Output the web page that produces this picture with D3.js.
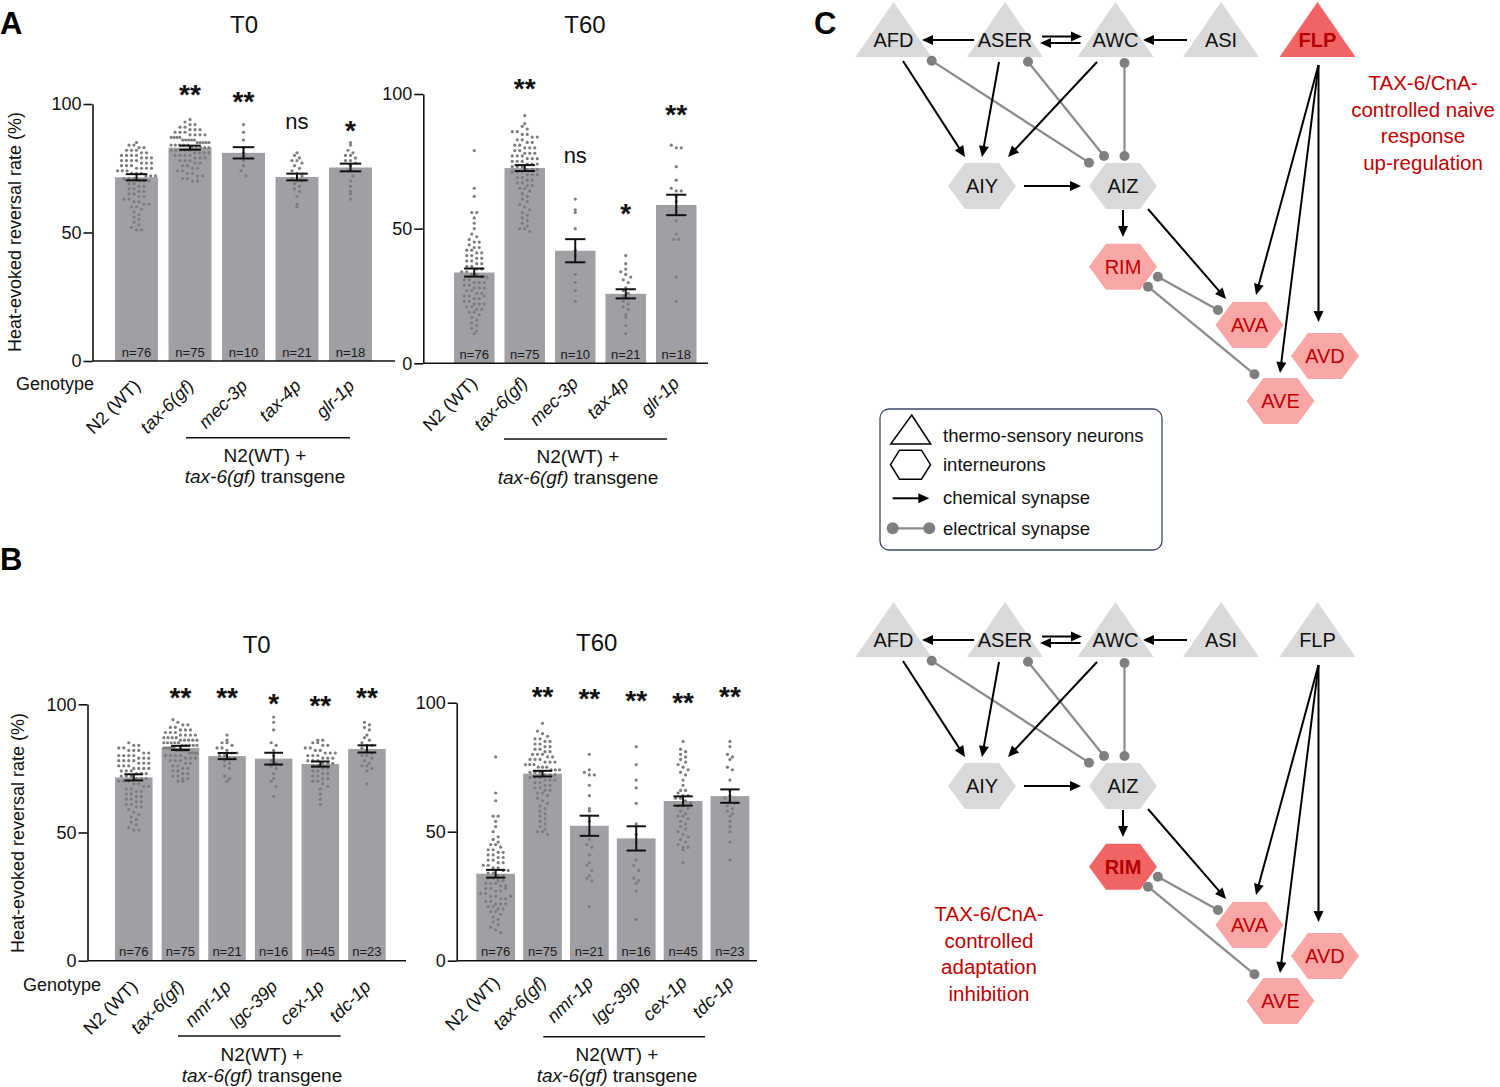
<!DOCTYPE html>
<html><head><meta charset="utf-8">
<script src="https://cdn.jsdelivr.net/npm/d3@7"></script>
<style>
body{margin:0;background:#fff}
svg{display:block}
text{font-family:Arial,"Liberation Sans",Helvetica,sans-serif}
</style>
</head><body>
<svg id="c" width="1500" height="1087"></svg>
<script>
// ---------------- DATA ----------------
const catsA = ["N2 (WT)","tax-6(gf)","mec-3p","tax-4p","glr-1p"];
const catsB = ["N2 (WT)","tax-6(gf)","nmr-1p","lgc-39p","cex-1p","tdc-1p"];
const nA = [76,75,10,21,18];
const nB = [76,75,21,16,45,23];

const meanA_T0  = [71.5, 83.0, 81.0, 71.6, 75.3];
const semA_T0   = [1.2, 0.8, 2.2, 1.3, 1.5];
const meanA_T60 = [33.7, 72.5, 41.8, 25.8, 58.8];
const semA_T60  = [1.5, 1.1, 4.3, 1.7, 3.8];
const meanB_T0  = [71.5, 83.0, 79.8, 78.8, 76.7, 82.6];
const semB_T0   = [1.2, 0.8, 1.2, 2.3, 1.0, 1.4];
const meanB_T60 = [33.7, 72.5, 52.3, 47.4, 61.9, 63.8];
const semB_T60  = [1.5, 1.1, 3.9, 4.7, 1.8, 2.6];

const sigA_T0  = ["", "**", "**", "ns", "*"];
const sigA_T60 = ["", "**", "ns", "*", "**"];
const sigB_T0  = ["", "**", "**", "*", "**", "**"];
const sigB_T60 = ["", "**", "**", "**", "**", "**"];
// height (in % units) at which each significance mark sits
const sigAtA_T0  = [0, 106.2, 103.5, 92.6, 92.2];
const sigAtA_T60 = [0, 104.5, 76.6, 58.0, 94.8];
const sigAtB_T0  = [0, 105.2, 105.2, 103.0, 102.1, 105.2];
const sigAtB_T60 = [0, 104.9, 104.3, 103.4, 102.6, 104.9];

// individual animals / trials (%)
const ptsN2_T0 = [85,84,84,83,83,82,82,82,81,81,80,80,80,80,79,79,79,78,78,78,78,77,77,77,76,76,76,75,75,75,75,74,74,74,73,73,73,72,72,72,71,71,71,70,70,70,69,69,68,68,67,67,66,66,65,65,64,64,63,63,62,62,61,61,60,60,59,58,57,56,55,54,53,52,51,51];
const ptsTax6_T0 = [94,93,92,92,91,91,90,90,90,89,89,89,88,88,88,88,87,87,87,87,86,86,86,86,86,85,85,85,85,85,84,84,84,84,84,83,83,83,83,83,82,82,82,82,82,81,81,81,81,80,80,80,80,79,79,79,78,78,78,77,77,76,76,75,75,74,74,73,73,72,72,71,71,70,70];
const ptsMec3_T0 = [92,89,86,83,81,80,78,76,74,72];
const ptsTax4_T0 = [81,80,79,78,78,77,76,75,74,73,72,71,70,70,69,68,67,66,64,61,60];
const ptsGlr1_T0 = [85,84,82,81,80,80,79,78,78,77,76,74,72,70,68,66,65,63];

const ptsN2_T60 = [79,65,62,56,56,54,52,50,48,47,46,45,45,44,43,43,42,42,41,41,40,40,39,39,38,38,37,37,36,36,35,35,34,34,33,33,32,32,31,31,30,30,30,29,29,28,28,27,27,26,26,25,25,24,24,23,23,22,22,21,21,20,20,19,19,18,17,16,15,14,13,12,11,22,25,28];
const ptsTax6_T60 = [92,89,88,87,86,86,85,85,84,84,83,83,82,82,81,81,80,80,80,79,79,78,78,78,77,77,77,76,76,76,75,75,75,74,74,74,73,73,73,72,72,72,71,71,71,70,70,70,69,69,68,68,67,67,66,66,65,65,64,63,62,61,60,59,58,57,56,55,54,53,52,51,50,50,49];
const ptsMec3_T60 = [61,57,56,50,42,40,33,30,27,23];
const ptsTax4_T60 = [40,37,35,34,33,32,31,30,28,27,26,25,24,23,22,21,20,18,17,14,11];
const ptsGlr1_T60 = [81,80,80,73,68,65,64,64,62,60,58,56,53,48,46,46,32,23];

const ptsNmr1_T0 = [88,86,85,85,84,83,83,82,81,81,80,80,79,79,78,77,76,75,72,71,70];
const ptsLgc39_T0 = [95,93,90,85,84,82,80,78,77,76,75,73,71,70,68,64];
const ptsCex1_T0 = [86,86,85,85,84,84,83,83,82,82,81,81,81,80,80,80,79,79,79,78,78,78,77,77,77,76,76,75,75,74,74,73,73,72,72,71,71,70,70,69,68,67,65,63,61];
const ptsTdc1_T0 = [93,92,91,90,88,87,86,85,84,84,83,82,81,80,80,79,78,77,76,76,75,74,69];

const ptsNmr1_T60 = [80,74,73,72,72,68,64,59,58,54,47,45,44,41,38,37,35,33,32,31,21];
const ptsLgc39_T60 = [83,76,70,67,61,53,49,46,39,37,35,32,31,30,27,16];
const ptsCex1_T60 = [85,82,81,80,79,78,77,76,75,74,73,72,70,68,66,66,65,64,64,63,63,62,61,60,60,59,58,57,56,56,55,54,53,52,51,50,49,48,47,46,45,44,44,43,38];
const ptsTdc1_T60 = [85,83,80,79,78,75,74,70,66,64,63,62,61,60,59,58,57,56,54,52,50,46,39];

const yTicks = [0, 50, 100];

// network
const netNodes  = ["AFD","ASER","AWC","ASI","FLP","AIY","AIZ","RIM","AVA","AVD","AVE"];
const netShapes = ["tri","tri","tri","tri","tri","hex","hex","hex","hex","hex","hex"];
const netStateTop    = ["g","g","g","g","r","g","g","p","p","p","p"];
const netStateBottom = ["g","g","g","g","g","g","g","r","p","p","p"];
const chemEdges = [["ASER","AFD"],["ASER","AWC"],["AWC","ASER"],["ASI","AWC"],["AFD","AIY"],["ASER","AIY"],["AWC","AIY"],["AIY","AIZ"],["AIZ","RIM"],["AIZ","AVA"],["FLP","AVA"],["FLP","AVE"],["FLP","AVD"]];
const elecEdges = [["AFD","AIZ"],["ASER","AIZ"],["AWC","AIZ"],["RIM","AVA"],["RIM","AVE"]];
const noteTop = ["TAX-6/CnA-","controlled naive","response","up-regulation"];
const noteBottom = ["TAX-6/CnA-","controlled","adaptation","inhibition"];
const legendItems = ["thermo-sensory neurons","interneurons","chemical synapse","electrical synapse"];

// ---------------- DRAWING ----------------
const svg = d3.select("#c");
const BAR = "#a09fa4", DOT = "#7c7c7c", INK = "#111";

// GraphPad-like scatter: points grouped in horizontal rows, spread evenly about the bar centre
function swarm(vals, y, cx, maxHalf){
  const rowH = 5.6, sp = 5.0;
  const groups = d3.groups(vals, v => Math.round(y(v) / rowH));
  const out = [];
  groups.forEach(([k, arr]) => {
    const n = arr.length;
    const s = n > 1 ? Math.min(sp, 2*maxHalf/(n-1)) : sp;
    arr.forEach((v, j) => out.push({x: cx + (j - (n-1)/2) * s, y: y(v)}));
  });
  return out;
}

function panel(cfg){
  const g = svg.append("g");
  const x = d3.scaleBand().domain(cfg.cats).range([cfg.bandL, cfg.bandR]).paddingInner(cfg.pad).paddingOuter(0);
  const y = d3.scaleLinear().domain([0,100]).range([cfg.y0, cfg.y100]);
  const bw = x.bandwidth();
  const rows = cfg.cats.map((c,i) => ({c, i, m: cfg.means[i], s: cfg.sems[i], n: cfg.ns[i], p: cfg.pts[i], sig: cfg.sig[i], at: cfg.sigAt[i]}));

  g.selectAll("rect.bar").data(rows).join("rect").attr("class","bar")
    .attr("x", d => x(d.c)).attr("y", d => y(d.m))
    .attr("width", bw).attr("height", d => y(0) - y(d.m)).attr("fill", BAR);

  g.selectAll("text.n").data(rows).join("text").attr("class","n")
    .attr("x", d => x(d.c) + bw/2).attr("y", y(0) - 4.5)
    .attr("text-anchor","middle").attr("font-size", 13).attr("fill","#1a1a1a")
    .text(d => "n=" + d.n);

  rows.forEach(d => {
    const cx = x(d.c) + bw/2;
    const pl = swarm(d.p, y, cx, bw*0.44);
    g.append("g").selectAll("circle").data(pl).join("circle")
      .attr("cx", p => p.x).attr("cy", p => p.y).attr("r", 1.6).attr("fill", DOT);
  });

  // error bars
  const eb = g.append("g").attr("stroke", INK).attr("stroke-width", 2);
  rows.forEach(d => {
    const cx = x(d.c) + bw/2, cw = bw*0.25;
    eb.append("line").attr("x1",cx).attr("x2",cx).attr("y1",y(d.m-d.s)).attr("y2",y(d.m+d.s));
    eb.append("line").attr("x1",cx-cw).attr("x2",cx+cw).attr("y1",y(d.m-d.s)).attr("y2",y(d.m-d.s));
    eb.append("line").attr("x1",cx-cw).attr("x2",cx+cw).attr("y1",y(d.m+d.s)).attr("y2",y(d.m+d.s));
  });

  // significance
  rows.filter(d => d.sig).forEach(d => {
    const cx = x(d.c) + bw/2;
    const star = d.sig.indexOf("*") >= 0;
    g.append("text").attr("x", cx).attr("y", y(d.at) + (star ? 16 : 6))
      .attr("text-anchor","middle").attr("font-size", star ? 28 : 22)
      .attr("font-weight", star ? "bold" : "normal").attr("fill", INK).text(d.sig);
  });

  // y axis
  const ya = g.append("g").attr("transform", `translate(${cfg.axisX},0)`)
    .call(d3.axisLeft(y).tickValues(yTicks).tickSize(9).tickSizeOuter(0).tickPadding(2));
  ya.selectAll("path,line").attr("stroke", INK).attr("stroke-width", 1.6);
  ya.selectAll("text").attr("font-size", 18).attr("fill", INK).attr("font-family","Arial, 'Liberation Sans', sans-serif");

  // x axis line
  g.append("line").attr("x1", cfg.axisX).attr("x2", cfg.xEnd).attr("y1", y(0)).attr("y2", y(0))
    .attr("stroke", INK).attr("stroke-width", 1.6);

  // x labels
  g.selectAll("text.xl").data(rows).join("text").attr("class","xl")
    .attr("transform", d => `translate(${x(d.c) + bw/2 + cfg.ldx},${y(0) + cfg.ldy}) rotate(-45)`)
    .attr("text-anchor","end").attr("font-size", 18).attr("fill", INK)
    .attr("font-style", d => d.i === 0 ? "normal" : "italic")
    .text(d => d.c);

  // title
  g.append("text").attr("x", cfg.tx).attr("y", cfg.ty).attr("text-anchor","middle")
    .attr("font-size", 24).attr("fill", INK).text(cfg.title);

  // bracket
  g.append("line").attr("x1", cfg.bx1).attr("x2", cfg.bx2).attr("y1", cfg.by).attr("y2", cfg.by)
    .attr("stroke", INK).attr("stroke-width", 1.6);
  g.append("text").attr("x", cfg.btx).attr("y", cfg.bty1).attr("text-anchor","middle")
    .attr("font-size", 19).attr("fill", INK).text("N2(WT) +");
  const t2 = g.append("text").attr("x", cfg.btx).attr("y", cfg.bty2).attr("text-anchor","middle")
    .attr("font-size", 19).attr("fill", INK);
  t2.append("tspan").attr("font-style","italic").text("tax-6(gf)");
  t2.append("tspan").text(" transgene");

  if (cfg.geno){
    g.append("text").attr("x", cfg.geno[0]).attr("y", cfg.geno[1]).attr("text-anchor","middle")
      .attr("font-size", 18).attr("fill", INK).text("Genotype");
    g.append("text").attr("transform", `translate(${cfg.ylab[0]},${cfg.ylab[1]}) rotate(-90)`)
      .attr("text-anchor","middle").attr("dy","0.35em").attr("font-size", 18).attr("fill", INK)
      .text("Heat-evoked reversal rate (%)");
  }
}

panel({cats: catsA, means: meanA_T0, sems: semA_T0, ns: nA,
  pts: [ptsN2_T0, ptsTax6_T0, ptsMec3_T0, ptsTax4_T0, ptsGlr1_T0], sig: sigA_T0, sigAt: sigAtA_T0,
  axisX: 92.5, xEnd: 395, y0: 361, y100: 104, bandL: 115, bandR: 372, pad: 0.196,
  ldx: 5, ldy: 26, title: "T0", tx: 244, ty: 33,
  bx1: 186, bx2: 350, by: 437.7, btx: 265, bty1: 462, bty2: 483,
  geno: [55, 390], ylab: [14.5, 232]});

panel({cats: catsA, means: meanA_T60, sems: semA_T60, ns: nA,
  pts: [ptsN2_T60, ptsTax6_T60, ptsMec3_T60, ptsTax4_T60, ptsGlr1_T60], sig: sigA_T60, sigAt: sigAtA_T60,
  axisX: 423.3, xEnd: 708, y0: 363.3, y100: 94, bandL: 454, bandR: 696.5, pad: 0.198,
  ldx: 4, ldy: 21, title: "T60", tx: 585, ty: 33,
  bx1: 504, bx2: 667, by: 439, btx: 578, bty1: 463, bty2: 484});

panel({cats: catsB, means: meanB_T0, sems: semB_T0, ns: nB,
  pts: [ptsN2_T0, ptsTax6_T0, ptsNmr1_T0, ptsLgc39_T0, ptsCex1_T0, ptsTdc1_T0], sig: sigB_T0, sigAt: sigAtB_T0,
  axisX: 87.5, xEnd: 406, y0: 960.7, y100: 704.3, bandL: 115, bandR: 385.7, pad: 0.195,
  ldx: 5, ldy: 27, title: "T0", tx: 256.7, ty: 653,
  bx1: 178, bx2: 340.7, by: 1036, btx: 262, bty1: 1061, bty2: 1082,
  geno: [62, 991], ylab: [17.5, 833]});

panel({cats: catsB, means: meanB_T60, sems: semB_T60, ns: nB,
  pts: [ptsN2_T60, ptsTax6_T60, ptsNmr1_T60, ptsLgc39_T60, ptsCex1_T60, ptsTdc1_T60], sig: sigB_T60, sigAt: sigAtB_T60,
  axisX: 456.7, xEnd: 757, y0: 960.7, y100: 702.7, bandL: 476.3, bandR: 749.3, pad: 0.173,
  ldx: 5, ldy: 23, title: "T60", tx: 596.7, ty: 651,
  bx1: 543.3, bx2: 705, by: 1036.7, btx: 617, bty1: 1061, bty2: 1082});

// panel letters
[["A",0,34],["B",0,570],["C",814,34]].forEach(([t,x,y]) =>
  svg.append("text").attr("x",x).attr("y",y).attr("font-size",31).attr("font-weight","bold").attr("fill","#000").text(t));

// ---------------- NETWORK (panel C) ----------------
const nodeLayout = {AFD:[893.5,40], ASER:[1005,40], AWC:[1115.5,40], ASI:[1221,40], FLP:[1317.5,40],
  AIY:[982,186], AIZ:[1123,186], RIM:[1123,266.7], AVA:[1249.5,325], AVD:[1325,356], AVE:[1280.5,401]};
const chemOffsets = {
  "ASER-AFD": [[-31,0],[28.5,0]], "ASER-AWC": [[37,-3.5],[-33.5,-3.5]], "AWC-ASER": [[-35,3],[35,3]],
  "ASI-AWC": [[-34,0],[27.5,0]], "AFD-AIY": [[9.5,21],[-17,-29]], "ASER-AIY": [[-6,22],[0,-29]],
  "AWC-AIY": [[-18.5,22],[26,-29]], "AIY-AIZ": [[42,0],[-42,0]], "AIZ-RIM": [[0,24],[0,-29.7]],
  "AIZ-AVA": [[25,23],[-23.5,-26]], "FLP-AVA": [[1,25],[6.5,-30]], "FLP-AVE": [[1,25],[-0.5,-28]],
  "FLP-AVD": [[1,25],[-6.5,-34]]};
const elecOffsets = {
  "AFD-AIZ": [[38.2,20.7],[-34,-23.3]], "ASER-AIZ": [[23,21.7],[-19,-30]], "AWC-AIZ": [[9,23],[1.5,-30]],
  "RIM-AVA": [[34.8,10],[-31.5,-15]], "RIM-AVE": [[25,20],[-26,-26.7]]};
const fillOf = {g:"#d9d9d9", p:"#f9a6a6", r:"#f26464"};
const textOf = {g:"#111", p:"#c00000", r:"#b30000"};
const RED = "#c00000", ELEC = "#8a8a8a";

function arrow(g, x1, y1, x2, y2, L=11, hw=5){
  const dx = x2-x1, dy = y2-y1, len = Math.hypot(dx,dy), ux = dx/len, uy = dy/len;
  const bx = x2 - ux*L, by = y2 - uy*L;
  g.append("line").attr("x1",x1).attr("y1",y1).attr("x2",bx+ux*1).attr("y2",by+uy*1)
    .attr("stroke","#000").attr("stroke-width",2);
  g.append("path").attr("d",`M${x2},${y2}L${bx - uy*hw},${by + ux*hw}L${bx + uy*hw},${by - ux*hw}Z`).attr("fill","#000");
}
function elec(g, x1, y1, x2, y2, r=5){
  g.append("line").attr("x1",x1).attr("y1",y1).attr("x2",x2).attr("y2",y2).attr("stroke",ELEC).attr("stroke-width",2.2);
  g.append("circle").attr("cx",x1).attr("cy",y1).attr("r",r).attr("fill","#7f7f7f");
  g.append("circle").attr("cx",x2).attr("cy",y2).attr("r",r).attr("fill","#7f7f7f");
}
function hexPath(cx, cy, hw, hh, te){
  return `M${cx-hw},${cy}L${cx-te},${cy-hh}L${cx+te},${cy-hh}L${cx+hw},${cy}L${cx+te},${cy+hh}L${cx-te},${cy+hh}Z`;
}

function network(dy, states, note, noteX, noteY){
  const g = svg.append("g");
  const P = name => { const p = nodeLayout[name]; return [p[0], p[1] + dy]; };
  netNodes.forEach((nm, i) => {
    const [cx, cy] = P(nm), st = states[i];
    if (netShapes[i] === "tri"){
      g.append("path").attr("d", `M${cx},${cy-38}L${cx+38},${cy+17}L${cx-38},${cy+17}Z`).attr("fill", fillOf[st]);
    } else {
      g.append("path").attr("d", hexPath(cx, cy, 34, 23, 17)).attr("fill", fillOf[st]);
    }
    g.append("text").attr("x", cx).attr("y", cy + 7).attr("text-anchor","middle").attr("font-size", 20)
      .attr("fill", textOf[st]).attr("font-weight", st === "r" ? "bold" : "normal").text(nm);
  });
  elecEdges.forEach(([a,b]) => {
    const o = elecOffsets[a+"-"+b], pa = P(a), pb = P(b);
    elec(g, pa[0]+o[0][0], pa[1]+o[0][1], pb[0]+o[1][0], pb[1]+o[1][1]);
  });
  chemEdges.forEach(([a,b]) => {
    const o = chemOffsets[a+"-"+b], pa = P(a), pb = P(b);
    arrow(g, pa[0]+o[0][0], pa[1]+o[0][1], pb[0]+o[1][0], pb[1]+o[1][1]);
  });
  note.forEach((t, i) => g.append("text").attr("x", noteX).attr("y", noteY + i*26.5)
    .attr("text-anchor","middle").attr("font-size", 20.5).attr("fill", RED).text(t));
}
network(0, netStateTop, noteTop, 1423, 90);
network(600, netStateBottom, noteBottom, 989, 921);

// legend
const lg = svg.append("g");
lg.append("rect").attr("x",880).attr("y",409).attr("width",282).attr("height",141).attr("rx",9)
  .attr("fill","#fff").attr("stroke","#3e4868").attr("stroke-width",1.3);
lg.append("path").attr("d","M911.7,415L930.7,444L890.7,444Z").attr("fill","none").attr("stroke","#000").attr("stroke-width",1.5);
lg.append("path").attr("d", hexPath(910.5, 464.7, 20, 14.5, 11)).attr("fill","none").attr("stroke","#000").attr("stroke-width",1.5);
arrow(lg, 892.7, 498.3, 929.3, 498.3, 11, 5);
elec(lg, 892.7, 528.3, 929.3, 528.3, 6);
legendItems.forEach((t,i) => lg.append("text").attr("x",943).attr("y",[441.5,470.5,503.5,534.5][i])
  .attr("font-size",18.5).attr("fill","#111").text(t));
</script>
</body></html>
